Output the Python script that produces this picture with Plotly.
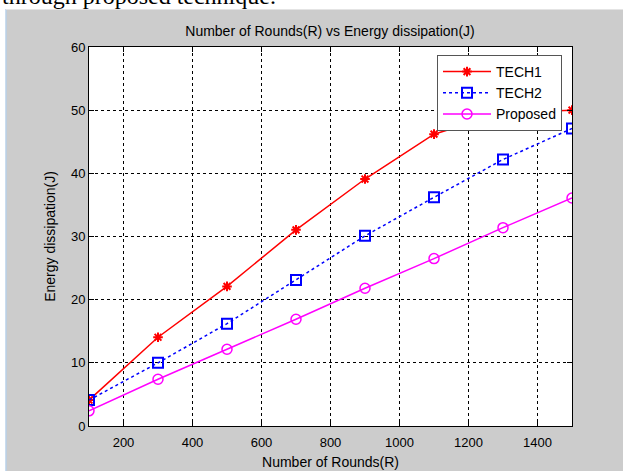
import plotly.graph_objects as go

rounds = [100, 300, 500, 700, 900, 1100, 1300, 1500]
tech1 = [4.1, 14.05, 22.1, 31.05, 39.1, 46.2, 49.6, 50.0]
tech2 = [4.1, 10.0, 16.2, 23.1, 30.1, 36.2, 42.2, 47.1]
proposed = [2.4, 7.4, 12.15, 16.9, 21.8, 26.5, 31.4, 36.1]
x_ticks = [200, 400, 600, 800, 1000, 1200, 1400]
y_ticks = [0, 10, 20, 30, 40, 50, 60]

W, H = 623, 471
L, R, T, B = 89, 51, 47, 45
pw, ph = W - L - R, H - T - B

def px_x(p):
    return (p - L) / pw

def px_y(p):
    return 1 - (p - T) / ph

FONT = "Liberation Sans, Arial"

fig = go.Figure()
fig.add_trace(go.Scatter(x=rounds, y=tech1, name="TECH1", mode="lines+markers",
                         line=dict(color="#ff0000", width=1.5),
                         marker=dict(symbol="asterisk-open", size=8,
                                     line=dict(color="#ff0000", width=2))))
fig.add_trace(go.Scatter(x=rounds, y=tech2, name="TECH2", mode="lines+markers",
                         line=dict(color="#0000ff", width=1.5, dash="dot"),
                         marker=dict(symbol="square-open", size=10, color="#0000ff",
                                     line=dict(color="#0000ff", width=2))))
fig.add_trace(go.Scatter(x=rounds, y=proposed, name="Proposed", mode="lines+markers",
                         line=dict(color="#ff00ff", width=1.5),
                         marker=dict(symbol="circle-open", size=10, color="#ff00ff",
                                     line=dict(color="#ff00ff", width=1.5))))

axis_common = dict(showline=True, linecolor="black", linewidth=1, mirror="ticks",
                   ticks="inside", ticklen=5, tickcolor="black",
                   showgrid=True, gridcolor="black", griddash="3px,3px", gridwidth=1,
                   zeroline=False, automargin=False,
                   tickfont=dict(family=FONT, size=13, color="black"))

fig.update_xaxes(range=[100, 1500], tickvals=x_ticks, ticklabelstandoff=4,
                 title=dict(text="Number of Rounds(R)", standoff=8,
                            font=dict(family=FONT, size=14, color="black")),
                 **axis_common)
fig.update_yaxes(range=[0, 60], tickvals=y_ticks,
                 title=dict(text="Energy dissipation(J)", standoff=12,
                            font=dict(family=FONT, size=14, color="black")),
                 **axis_common)

fig.update_layout(
    width=W, height=H,
    margin=dict(l=L, r=R, t=T, b=B, autoexpand=False),
    paper_bgcolor="#cccccc",
    plot_bgcolor="white",
    title=dict(text="Number of Rounds(R) vs Energy dissipation(J)", x=330 / W, xanchor="center",
               y=1 - 31 / H, yanchor="middle", automargin=False,
               font=dict(family=FONT, size=14, color="black")),
    legend=dict(x=px_x(437), y=px_y(55), xanchor="left", yanchor="top",
                bgcolor="white", bordercolor="#555555", borderwidth=1,
                font=dict(family=FONT, size=14, color="black"),
                tracegroupgap=0, itemwidth=48),
    showlegend=True,
    shapes=[
        dict(type="rect", xref="paper", yref="paper", x0=px_x(0), x1=px_x(W),
             y0=px_y(0), y1=px_y(9), fillcolor="white", line=dict(width=0), layer="below"),
        dict(type="rect", xref="paper", yref="paper", x0=px_x(0), x1=px_x(6),
             y0=px_y(0), y1=px_y(H), fillcolor="white", line=dict(width=0), layer="below"),
        dict(type="line", xref="paper", yref="paper", x0=px_x(6), x1=px_x(6),
             y0=px_y(9), y1=px_y(H), line=dict(color="#b8d0e8", width=1.5), layer="below"),
        dict(type="line", xref="paper", yref="paper", x0=px_x(6), x1=px_x(W),
             y0=px_y(9.5), y1=px_y(9.5), line=dict(color="#e4e4e4", width=1), layer="below"),
    ],
    annotations=[
        dict(text="through proposed technique.", xref="paper", yref="paper",
             x=px_x(0), y=px_y(-4), xanchor="left", yanchor="middle", showarrow=False,
             font=dict(family="Liberation Serif, Times New Roman", size=24, color="black")),
    ],
)

fig.write_html("out.html", config={"displayModeBar": False},
               post_script="document.body.style.margin='0';")
